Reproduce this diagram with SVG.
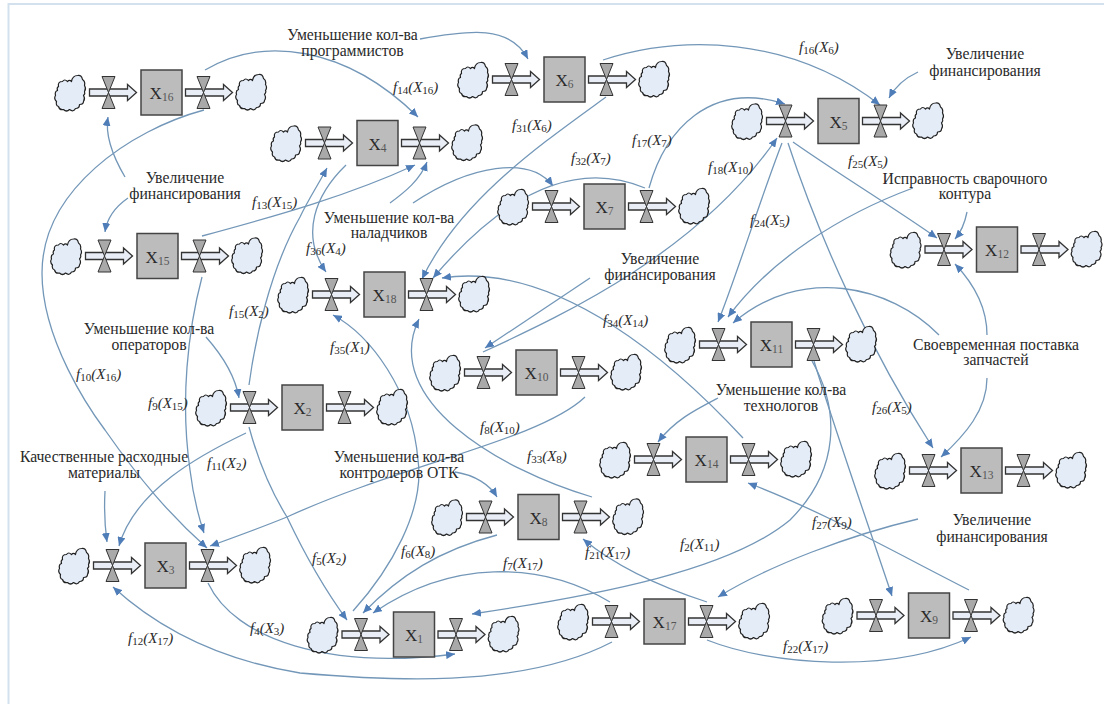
<svg xmlns="http://www.w3.org/2000/svg" width="1104" height="704" viewBox="0 0 1104 704">
<style>
text{font-family:"Liberation Serif","Times New Roman",serif;fill:#2a2a2a}
.l{font-size:15.700px;text-anchor:middle}
.f{font-size:15px;font-style:italic}
.f .s{font-size:11px;font-style:normal}
.n{font-size:17px;text-anchor:middle}
.n tspan{font-size:11.500px;fill:#555}
.c{fill:none;stroke:#7397b8;stroke-width:1.300;marker-end:url(#h)}
.cl{fill:#e4ecf8;stroke:#222;stroke-width:1.200;stroke-linejoin:round}
.v{fill:#a9a9a9;stroke:#333;stroke-width:1}
.a{fill:#e9eef6;stroke:#333;stroke-width:1.300;stroke-linejoin:miter}
.b{fill:#bcbcbc;stroke:#444;stroke-width:1.500}
</style>
<defs>
<marker id="h" markerUnits="userSpaceOnUse" markerWidth="10" markerHeight="8" refX="9" refY="4" orient="auto"><path d="M0,0L9,4L0,8Z" fill="#4f7db8"/></marker>
<path id="cloud" class="cl" d="M-12,-7Q-13,-12-8,-12Q-6,-15-3,-12Q-1,-14 1,-12Q2,-18 7,-18Q11,-19 12,-14Q15,-12 14,-8Q16,-5 14,-2Q15,0 13,2Q15,5 13,8Q13,11 9,11Q9,15 5,15Q3,19-1,16Q-4,19-7,16Q-11,17-12,13Q-15,12-14,8Q-17,5-15,2Q-16,-2-13,-3Q-14,-6-12,-7Z"/>
<path id="valve" class="v" d="M-6.500,-16H6.500L-6.500,16H6.500Z"/>
<path id="arrow" class="a" d="M0,-3.500H38V-8L47,0L38,8V3.500H0Z"/>
<g id="flow">
<use href="#cloud" x="-91" y="1"/>
<use href="#arrow" x="-72"/>
<use href="#valve" x="-53"/>
<rect class="b" x="-20.500" y="-22.500" width="41" height="45"/>
<use href="#arrow" x="24"/>
<use href="#valve" x="42"/>
<use href="#cloud" x="90" y="0"/>
</g>
</defs>
<rect width="1104" height="704" fill="#fff"/>
<path d="M1104,4H8.500V704" fill="none" stroke="#d3e1ee" stroke-width="2"/>
<g id="connectors">
<path class="c" d="M205,70C262,36 345,45 418,117"/>
<path class="c" d="M420,39C470,30 510,25 528,59"/>
<path class="c" d="M204,110C130,130 42,190 42,273C42,340 90,410 105,430C140,480 170,515 207,548"/>
<path class="c" d="M125,177C112,155 105,135 108,117"/>
<path class="c" d="M128,198C115,207 107,218 105,232"/>
<path class="c" d="M202,236C280,215 350,195 415,165"/>
<path class="c" d="M202,277C188,330 180,400 190,470C193,495 198,515 204,533"/>
<path class="c" d="M390,203C405,192 420,180 427,162"/>
<path class="c" d="M413,203C470,165 530,155 553,186"/>
<path class="c" d="M249,385C255,340 270,270 300,217C308,200 318,185 327,168"/>
<path class="c" d="M346,165C315,195 300,235 326,272"/>
<path class="c" d="M606,97C540,145 460,200 422,279"/>
<path class="c" d="M645,188C590,165 520,175 433,278"/>
<path class="c" d="M649,188C665,130 710,80 785,104"/>
<path class="c" d="M603,60C680,35 790,35 880,105"/>
<path class="c" d="M918,72C905,78 895,87 889,98"/>
<path class="c" d="M590,278L485,348"/>
<path class="c" d="M483,352C570,312 700,250 777,138"/>
<path class="c" d="M782,143C760,200 735,280 718,322"/>
<path class="c" d="M788,143C820,240 870,350 933,448"/>
<path class="c" d="M793,142C840,175 890,205 937,238"/>
<path class="c" d="M913,188C840,215 770,260 728,317"/>
<path class="c" d="M967,212C965,222 961,232 955,239"/>
<path class="c" d="M939,335C890,285 800,265 733,323"/>
<path class="c" d="M987,335C987,310 975,285 955,264"/>
<path class="c" d="M987,378C987,410 965,435 941,457"/>
<path class="c" d="M743,438C680,370 560,260 442,278"/>
<path class="c" d="M592,497C500,470 380,400 419,319"/>
<path class="c" d="M353,611C390,570 425,510 418,460C412,390 370,335 333,315"/>
<path class="c" d="M249,427C258,460 270,490 287,517C305,555 325,590 347,620"/>
<path class="c" d="M206,337C222,355 235,375 239,398"/>
<path class="c" d="M246,433C200,455 135,490 119,546"/>
<path class="c" d="M585,397C540,440 400,465 287,517C260,528 235,537 210,546"/>
<path class="c" d="M455,472C475,475 490,485 497,497"/>
<path class="c" d="M718,398C695,410 675,420 658,442"/>
<path class="c" d="M497,535C440,550 400,575 363,613"/>
<path class="c" d="M610,602C540,560 450,560 373,613"/>
<path class="c" d="M812,361C840,410 840,470 790,520C730,570 600,595 472,614"/>
<path class="c" d="M814,361C835,430 870,530 892,596"/>
<path class="c" d="M918,519C850,535 770,565 718,597"/>
<path class="c" d="M707,602C670,590 620,570 583,539"/>
<path class="c" d="M969,590C900,555 820,510 748,483"/>
<path class="c" d="M707,640C770,665 890,675 971,637"/>
<path class="c" d="M612,642C520,690 380,680 300,673C220,660 160,630 113,587"/>
<path class="c" d="M208,583C235,640 330,670 455,654"/>
<path class="c" d="M105,491C104,510 105,528 107,542"/>
</g>
<g id="X16" transform="translate(161.500,92.500)"><use href="#flow"/><text class="n" y="6.500">X<tspan dy="2">16</tspan></text></g>
<g id="X6" transform="translate(564.500,79.500)"><use href="#flow"/><text class="n" y="6.500">X<tspan dy="2">6</tspan></text></g>
<g id="X4" transform="translate(377.500,143)"><use href="#flow"/><text class="n" y="6.500">X<tspan dy="2">4</tspan></text></g>
<g id="X5" transform="translate(838.500,121)"><use href="#flow"/><text class="n" y="6.500">X<tspan dy="2">5</tspan></text></g>
<g id="X7" transform="translate(604.500,206.500)"><use href="#flow"/><text class="n" y="6.500">X<tspan dy="2">7</tspan></text></g>
<g id="X15" transform="translate(157.500,256)"><use href="#flow"/><text class="n" y="6.500">X<tspan dy="2">15</tspan></text></g>
<g id="X18" transform="translate(384.500,294.500)"><use href="#flow"/><text class="n" y="6.500">X<tspan dy="2">18</tspan></text></g>
<g id="X12" transform="translate(997,249.500)"><use href="#flow"/><text class="n" y="6.500">X<tspan dy="2">12</tspan></text></g>
<g id="X10" transform="translate(536.500,372.500)"><use href="#flow"/><text class="n" y="6.500">X<tspan dy="2">10</tspan></text></g>
<g id="X11" transform="translate(771.500,344.500)"><use href="#flow"/><text class="n" y="6.500">X<tspan dy="2">11</tspan></text></g>
<g id="X2" transform="translate(302.500,407.500)"><use href="#flow"/><text class="n" y="6.500">X<tspan dy="2">2</tspan></text></g>
<g id="X14" transform="translate(706.500,459.500)"><use href="#flow"/><text class="n" y="6.500">X<tspan dy="2">14</tspan></text></g>
<g id="X13" transform="translate(981.500,470.500)"><use href="#flow"/><text class="n" y="6.500">X<tspan dy="2">13</tspan></text></g>
<g id="X8" transform="translate(538.500,517)"><use href="#flow"/><text class="n" y="6.500">X<tspan dy="2">8</tspan></text></g>
<g id="X3" transform="translate(165.500,565.500)"><use href="#flow"/><text class="n" y="6.500">X<tspan dy="2">3</tspan></text></g>
<g id="X1" transform="translate(414,634.500)"><use href="#flow"/><text class="n" y="6.500">X<tspan dy="2">1</tspan></text></g>
<g id="X17" transform="translate(664.500,621.500)"><use href="#flow"/><text class="n" y="6.500">X<tspan dy="2">17</tspan></text></g>
<g id="X9" transform="translate(929,615.500)"><use href="#flow"/><text class="n" y="6.500">X<tspan dy="2">9</tspan></text></g>
<g id="labels">
<text class="l" x="352.500" y="40">Уменьшение кол-ва</text><text class="l" x="352.500" y="56">программистов</text>
<text class="l" x="985" y="59">Увеличение</text><text class="l" x="985" y="76">финансирования</text>
<text class="l" x="185" y="183">Увеличение</text><text class="l" x="185" y="199">финансирования</text>
<text class="l" x="389" y="223">Уменьшение кол-ва</text><text class="l" x="389" y="238">наладчиков</text>
<text class="l" x="965" y="184">Исправность сварочного</text><text class="l" x="965" y="199">контура</text>
<text class="l" x="660" y="264">Увеличение</text><text class="l" x="660" y="280">финансирования</text>
<text class="l" x="149" y="334">Уменьшение кол-ва</text><text class="l" x="149" y="350">операторов</text>
<text class="l" x="996" y="350">Своевременная поставка</text><text class="l" x="996" y="365">запчастей</text>
<text class="l" x="781" y="395">Уменьшение кол-ва</text><text class="l" x="781" y="411">технологов</text>
<text class="l" x="104" y="462">Качественные расходные</text><text class="l" x="104" y="478">материалы</text>
<text class="l" x="399" y="462">Уменьшение кол-ва</text><text class="l" x="399" y="478">контролеров ОТК</text>
<text class="l" x="992" y="525">Увеличение</text><text class="l" x="992" y="542">финансирования</text>
<text class="f" x="393" y="92">f<tspan class="s" dy="2">14</tspan><tspan dy="-2">(X</tspan><tspan class="s" dy="2">16</tspan><tspan dy="-2">)</tspan></text>
<text class="f" x="799" y="52">f<tspan class="s" dy="2">16</tspan><tspan dy="-2">(X</tspan><tspan class="s" dy="2">6</tspan><tspan dy="-2">)</tspan></text>
<text class="f" x="512" y="130">f<tspan class="s" dy="2">31</tspan><tspan dy="-2">(X</tspan><tspan class="s" dy="2">6</tspan><tspan dy="-2">)</tspan></text>
<text class="f" x="632" y="145">f<tspan class="s" dy="2">17</tspan><tspan dy="-2">(X</tspan><tspan class="s" dy="2">7</tspan><tspan dy="-2">)</tspan></text>
<text class="f" x="571" y="163">f<tspan class="s" dy="2">32</tspan><tspan dy="-2">(X</tspan><tspan class="s" dy="2">7</tspan><tspan dy="-2">)</tspan></text>
<text class="f" x="708" y="172">f<tspan class="s" dy="2">18</tspan><tspan dy="-2">(X</tspan><tspan class="s" dy="2">10</tspan><tspan dy="-2">)</tspan></text>
<text class="f" x="848" y="166">f<tspan class="s" dy="2">25</tspan><tspan dy="-2">(X</tspan><tspan class="s" dy="2">5</tspan><tspan dy="-2">)</tspan></text>
<text class="f" x="750" y="225">f<tspan class="s" dy="2">24</tspan><tspan dy="-2">(X</tspan><tspan class="s" dy="2">5</tspan><tspan dy="-2">)</tspan></text>
<text class="f" x="252" y="207">f<tspan class="s" dy="2">13</tspan><tspan dy="-2">(X</tspan><tspan class="s" dy="2">15</tspan><tspan dy="-2">)</tspan></text>
<text class="f" x="306" y="253">f<tspan class="s" dy="2">36</tspan><tspan dy="-2">(X</tspan><tspan class="s" dy="2">4</tspan><tspan dy="-2">)</tspan></text>
<text class="f" x="229" y="316">f<tspan class="s" dy="2">15</tspan><tspan dy="-2">(X</tspan><tspan class="s" dy="2">2</tspan><tspan dy="-2">)</tspan></text>
<text class="f" x="330" y="352">f<tspan class="s" dy="2">35</tspan><tspan dy="-2">(X</tspan><tspan class="s" dy="2">1</tspan><tspan dy="-2">)</tspan></text>
<text class="f" x="603" y="325">f<tspan class="s" dy="2">34</tspan><tspan dy="-2">(X</tspan><tspan class="s" dy="2">14</tspan><tspan dy="-2">)</tspan></text>
<text class="f" x="872" y="412">f<tspan class="s" dy="2">26</tspan><tspan dy="-2">(X</tspan><tspan class="s" dy="2">5</tspan><tspan dy="-2">)</tspan></text>
<text class="f" x="480" y="432">f<tspan class="s" dy="2">8</tspan><tspan dy="-2">(X</tspan><tspan class="s" dy="2">10</tspan><tspan dy="-2">)</tspan></text>
<text class="f" x="527" y="461">f<tspan class="s" dy="2">33</tspan><tspan dy="-2">(X</tspan><tspan class="s" dy="2">8</tspan><tspan dy="-2">)</tspan></text>
<text class="f" x="76" y="379">f<tspan class="s" dy="2">10</tspan><tspan dy="-2">(X</tspan><tspan class="s" dy="2">16</tspan><tspan dy="-2">)</tspan></text>
<text class="f" x="148" y="408">f<tspan class="s" dy="2">9</tspan><tspan dy="-2">(X</tspan><tspan class="s" dy="2">15</tspan><tspan dy="-2">)</tspan></text>
<text class="f" x="207" y="468">f<tspan class="s" dy="2">11</tspan><tspan dy="-2">(X</tspan><tspan class="s" dy="2">2</tspan><tspan dy="-2">)</tspan></text>
<text class="f" x="312" y="563">f<tspan class="s" dy="2">5</tspan><tspan dy="-2">(X</tspan><tspan class="s" dy="2">2</tspan><tspan dy="-2">)</tspan></text>
<text class="f" x="401" y="556">f<tspan class="s" dy="2">6</tspan><tspan dy="-2">(X</tspan><tspan class="s" dy="2">8</tspan><tspan dy="-2">)</tspan></text>
<text class="f" x="503" y="568">f<tspan class="s" dy="2">7</tspan><tspan dy="-2">(X</tspan><tspan class="s" dy="2">17</tspan><tspan dy="-2">)</tspan></text>
<text class="f" x="585" y="557">f<tspan class="s" dy="2">21</tspan><tspan dy="-2">(X</tspan><tspan class="s" dy="2">17</tspan><tspan dy="-2">)</tspan></text>
<text class="f" x="680" y="549">f<tspan class="s" dy="2">2</tspan><tspan dy="-2">(X</tspan><tspan class="s" dy="2">11</tspan><tspan dy="-2">)</tspan></text>
<text class="f" x="812" y="527">f<tspan class="s" dy="2">27</tspan><tspan dy="-2">(X</tspan><tspan class="s" dy="2">9</tspan><tspan dy="-2">)</tspan></text>
<text class="f" x="783" y="651">f<tspan class="s" dy="2">22</tspan><tspan dy="-2">(X</tspan><tspan class="s" dy="2">17</tspan><tspan dy="-2">)</tspan></text>
<text class="f" x="250" y="633">f<tspan class="s" dy="2">4</tspan><tspan dy="-2">(X</tspan><tspan class="s" dy="2">3</tspan><tspan dy="-2">)</tspan></text>
<text class="f" x="128" y="643">f<tspan class="s" dy="2">12</tspan><tspan dy="-2">(X</tspan><tspan class="s" dy="2">17</tspan><tspan dy="-2">)</tspan></text>
</g>
</svg>
